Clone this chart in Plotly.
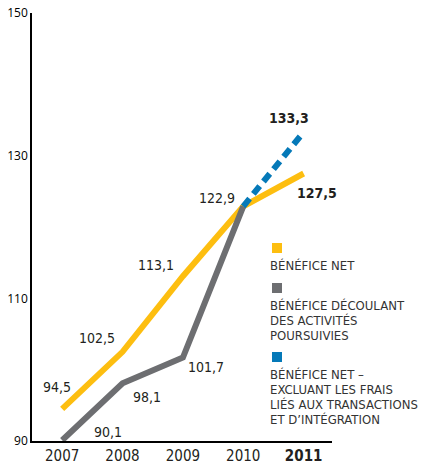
import plotly.graph_objects as go

years = ["2007", "2008", "2009", "2010", "2011"]
net_income = [94.5, 102.5, 113.1, 122.9, 127.5]
continuing_ops = [90.1, 98.1, 101.7, 122.9, None]
net_excl_costs = [None, None, None, 122.9, 133.3]
y_ticks = [90, 110, 130, 150]

net_labels = ["94,5", "102,5", "113,1", "122,9", "<b>127,5</b>"]
cont_labels = ["90,1", "98,1", "101,7", None, None]
excl_labels = [None, None, None, None, "<b>133,3</b>"]

YELLOW = "#FDBE10"
GRAY = "#6D6E71"
BLUE = "#0579B8"
TXT = "#231F20"
LBL_FONT = "DejaVu Sans Condensed, Roboto, sans-serif"

# plot area in page pixels
PL, PR, PT, PB = 32, 332, 13, 441
W, H = 422, 470

fig = go.Figure()
fig.add_trace(go.Scatter(x=years, y=net_income, mode="lines",
                         line=dict(color=YELLOW, width=6), hoverinfo="skip"))
fig.add_trace(go.Scatter(x=years, y=continuing_ops, mode="lines",
                         line=dict(color=GRAY, width=6), hoverinfo="skip"))
fig.add_trace(go.Scatter(x=years, y=net_excl_costs, mode="lines",
                         line=dict(color=BLUE, width=6, dash="10px,6px"), hoverinfo="skip"))

# value labels: offsets in pixels (style)
net_off = [(-5, 22), (-26, 14), (-27, 11), (-26, 8), (13, -19)]
cont_off = [(46, 8), (24, -14), (23, -9), (0, 0), (0, 0)]
excl_off = [(0, 0), (0, 0), (0, 0), (0, 0), (-15, 14)]

for labels, vals, offs in [(net_labels, net_income, net_off),
                           (cont_labels, continuing_ops, cont_off),
                           (excl_labels, net_excl_costs, excl_off)]:
    for i, (lab, v, (dx, dy)) in enumerate(zip(labels, vals, offs)):
        if lab is None or v is None:
            continue
        fig.add_annotation(x=i, y=v, text=lab, showarrow=False,
                           xshift=dx, yshift=dy,
                           font=dict(family=LBL_FONT, size=14, color=TXT))

# legend (custom)
legend_items = [
    (YELLOW, ["BÉNÉFICE NET"]),
    (GRAY, ["BÉNÉFICE DÉCOULANT", "DES ACTIVITÉS", "POURSUIVIES"]),
    (BLUE, ["BÉNÉFICE NET –", "EXCLUANT LES FRAIS", "LIÉS AUX TRANSACTIONS", "ET D’INTÉGRATION"]),
]
sq_tops = [243, 283, 352]
pw, ph = PR - PL, PB - PT
for (col, lines), top in zip(legend_items, sq_tops):
    fig.add_shape(type="rect", xref="paper", yref="paper",
                  x0=(272 - PL) / pw, x1=(282 - PL) / pw,
                  y0=(PB - top - 10) / ph, y1=(PB - top) / ph,
                  fillcolor=col, line=dict(width=0))
    for k, line in enumerate(lines):
        cy = top + 22 + 15 * k
        fig.add_annotation(xref="paper", yref="paper",
                           x=(268 - PL) / pw, y=(PB - cy) / ph,
                           xanchor="left", yanchor="middle", align="left",
                           text=line, showarrow=False,
                           font=dict(family=LBL_FONT, size=13, color="#333333"))

tick_text = [("<b>%s</b>" % y if i == len(years) - 1 else y) for i, y in enumerate(years)]

fig.update_layout(
    width=W, height=H,
    margin=dict(l=PL, r=W - PR, t=PT, b=H - PB, pad=0),
    plot_bgcolor="white", paper_bgcolor="white",
    showlegend=False,
    xaxis=dict(type="category", range=[-0.5, 4.47], showgrid=False,
               showline=True, linecolor="black", linewidth=1.5,
               ticks="", tickvals=years, ticktext=tick_text, automargin=False,
               tickfont=dict(family=LBL_FONT, size=15, color=TXT)),
    yaxis=dict(range=[90, 150], tickvals=y_ticks, showgrid=False,
               showline=True, linecolor="black", linewidth=1.5,
               ticks="", zeroline=False, automargin=False,
               ticklabeloverflow="allow",
               tickfont=dict(family="Open Sans, sans-serif", size=12, color="black")),
)

fig.write_html("out.html", config={"displayModeBar": False},
               post_script="document.body.style.margin='0';document.body.style.overflow='hidden';")
